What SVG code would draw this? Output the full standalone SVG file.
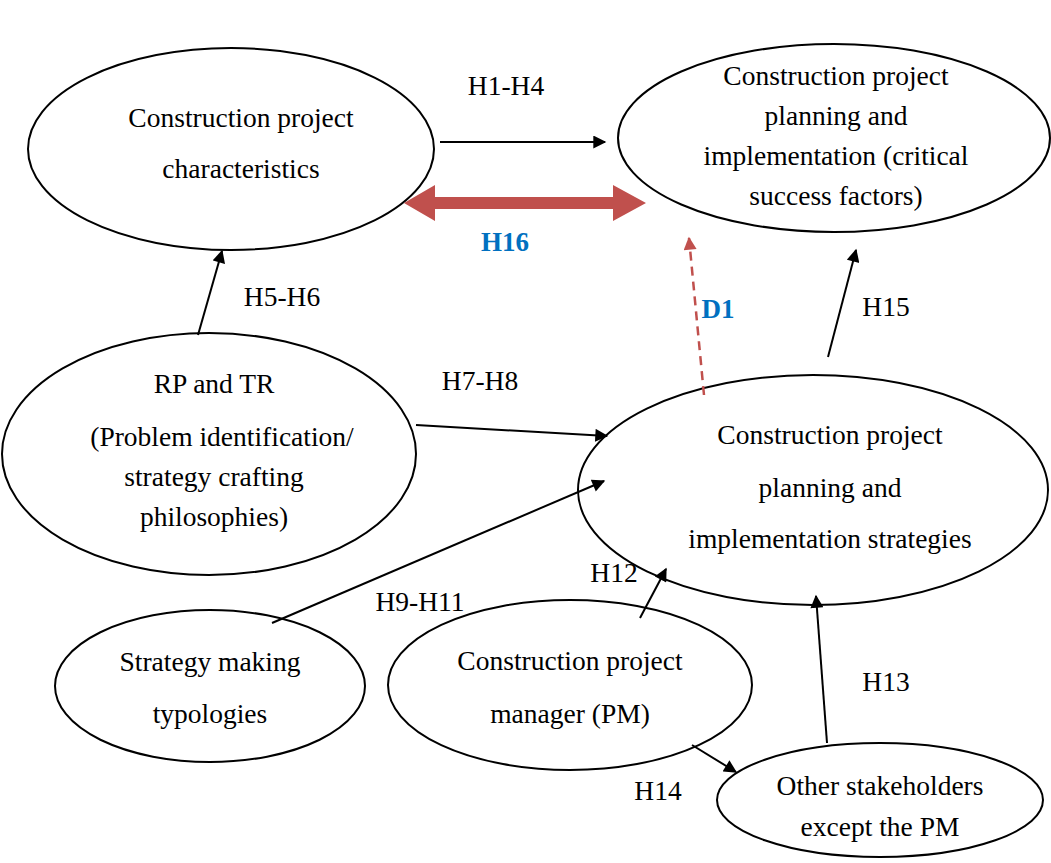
<svg xmlns="http://www.w3.org/2000/svg" width="1051" height="863" viewBox="0 0 1051 863">
  <style>
    .node ellipse { fill: #fff; stroke: #000; stroke-width: 2; }
    .t { font-family: "Liberation Serif", "Times New Roman", serif; font-size: 27.5px; fill: #000; text-anchor: middle; }
    .blue { font-family: "Liberation Serif", "Times New Roman", serif; font-size: 27px; font-weight: bold; fill: #0070C0; text-anchor: middle; }
    .edge { stroke: #000; stroke-width: 2; fill: none; marker-end: url(#ah); }
    .dash { stroke: #C0504D; stroke-width: 2.5; stroke-dasharray: 9 6; fill: none; marker-end: url(#ahr); }
  </style>
  <defs>
    <marker id="ah" viewBox="0 0 10 10" refX="9" refY="5" markerWidth="14" markerHeight="13" markerUnits="userSpaceOnUse" orient="auto">
      <path d="M0,0 L10,5 L0,10 z" fill="#000"/>
    </marker>
    <marker id="ahr" viewBox="0 0 10 10" refX="9" refY="5" markerWidth="14" markerHeight="13" markerUnits="userSpaceOnUse" orient="auto">
      <path d="M0,0 L10,5 L0,10 z" fill="#C0504D"/>
    </marker>
  </defs>
  <rect width="1051" height="863" fill="#fff"/>

  <g id="n-characteristics" class="node">
    <ellipse cx="231" cy="149" rx="203" ry="101"/>
    <text class="t" x="241" y="127">Construction project</text>
    <text class="t" x="241" y="178">characteristics</text>
  </g>
  <g id="n-csf" class="node">
    <ellipse cx="834" cy="138" rx="216" ry="94"/>
    <text class="t" x="836" y="85">Construction project</text>
    <text class="t" x="836" y="125">planning and</text>
    <text class="t" x="836" y="165">implementation (critical</text>
    <text class="t" x="836" y="205">success factors)</text>
  </g>
  <g id="n-rptr" class="node">
    <ellipse cx="209" cy="454" rx="207" ry="121"/>
    <text class="t" x="214" y="393">RP and TR</text>
    <text class="t" x="222" y="446">(Problem identification/</text>
    <text class="t" x="214" y="486">strategy crafting</text>
    <text class="t" x="214" y="526">philosophies)</text>
  </g>
  <g id="n-strategies" class="node">
    <ellipse cx="813" cy="490" rx="235" ry="115"/>
    <text class="t" x="830" y="444">Construction project</text>
    <text class="t" x="830" y="497">planning and</text>
    <text class="t" x="830" y="548">implementation strategies</text>
  </g>
  <g id="n-typologies" class="node">
    <ellipse cx="210" cy="686" rx="155" ry="76"/>
    <text class="t" x="210" y="671">Strategy making</text>
    <text class="t" x="210" y="723">typologies</text>
  </g>
  <g id="n-pm" class="node">
    <ellipse cx="570" cy="685" rx="182" ry="85"/>
    <text class="t" x="570" y="670">Construction project</text>
    <text class="t" x="570" y="723">manager (PM)</text>
  </g>
  <g id="n-stakeholders" class="node">
    <ellipse cx="880" cy="800" rx="163" ry="57"/>
    <text class="t" x="880" y="795">Other stakeholders</text>
    <text class="t" x="880" y="836">except the PM</text>
  </g>

  <g id="connectors">
    <line class="edge" x1="440" y1="142" x2="605" y2="142"/>
    <line class="edge" x1="198" y1="335" x2="222" y2="251"/>
    <line class="edge" x1="416" y1="425" x2="607" y2="436"/>
    <line class="edge" x1="272" y1="623" x2="604" y2="481"/>
    <line class="edge" x1="640" y1="618" x2="666" y2="569"/>
    <line class="edge" x1="828" y1="357" x2="856" y2="250"/>
    <line class="edge" x1="827" y1="743" x2="816" y2="596"/>
    <line class="edge" x1="692" y1="745" x2="736" y2="772"/>
    <line class="dash" x1="704" y1="395" x2="689" y2="238"/>
    <!-- H16 two-headed block arrow -->
    <path d="M404,203 L435,185 L435,197 L613,197 L613,185 L646,203 L613,221 L613,209 L435,209 L435,221 Z" fill="#C0504D"/>
  </g>

  <g id="labels">
    <text class="t" x="506" y="95">H1-H4</text>
    <text class="blue" x="505" y="251">H16</text>
    <text class="blue" x="718" y="318">D1</text>
    <text class="t" x="886" y="316">H15</text>
    <text class="t" x="282" y="306">H5-H6</text>
    <text class="t" x="480" y="390">H7-H8</text>
    <text class="t" x="420" y="611">H9-H11</text>
    <text class="t" x="614" y="582">H12</text>
    <text class="t" x="886" y="691">H13</text>
    <text class="t" x="658" y="800">H14</text>
  </g>
</svg>
